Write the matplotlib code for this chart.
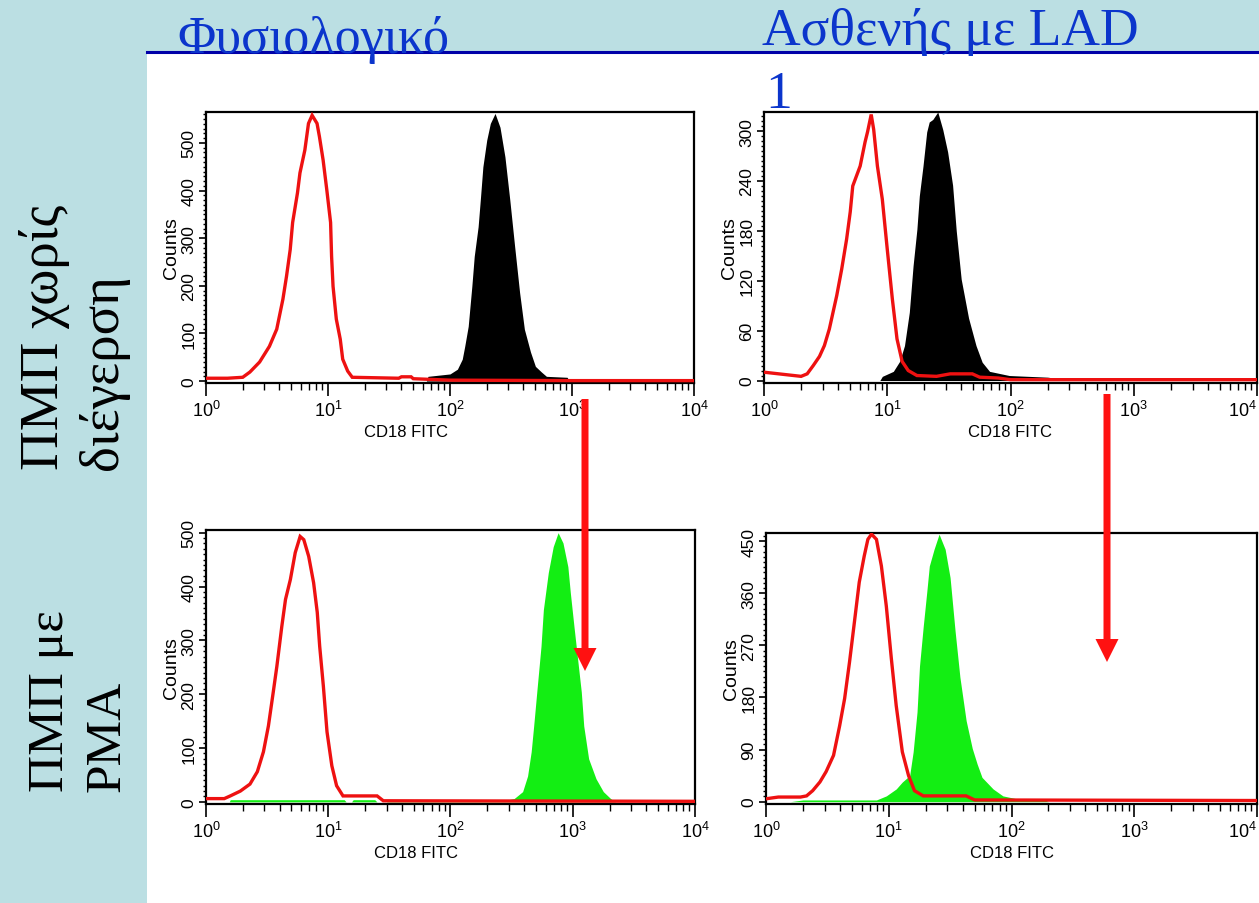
import matplotlib
matplotlib.use("Agg")
import matplotlib.pyplot as plt
from matplotlib.patches import Rectangle, FancyArrow
from matplotlib.lines import Line2D
from matplotlib.ticker import LogLocator, MultipleLocator, NullFormatter, FixedLocator

plt.rcParams['font.family'] = ['Liberation Sans', 'DejaVu Sans']
plt.rcParams['mathtext.fontset'] = 'custom'
plt.rcParams['mathtext.rm'] = 'Liberation Sans'
plt.rcParams['mathtext.it'] = 'Liberation Sans'

# ---------------- data ----------------
col_titles = ["Φυσιολογικό", "Ασθενής με LAD\n1"]
row_titles = ["ΠΜΠ χωρίς\nδιέγερση", "ΠΜΠ με\nPMA"]
x_label = "CD18 FITC"
y_label = "Counts"
x_ticks = [1, 10, 100, 1000, 10000]

# top-left: normal, unstimulated
tl_ctrl_x = [1.0, 1.5, 2.0, 2.29, 2.75, 3.31, 3.80, 4.27, 4.57, 4.90, 5.13, 5.62, 5.89, 6.46,
             6.92, 7.41, 8.13, 8.51, 9.12, 9.77, 10.5, 10.7, 11.0, 11.7, 12.6, 13.2, 14.5, 15.8,
             38, 40, 48, 50, 100, 1000, 10000]
tl_ctrl_y = [6, 6, 8, 19, 40, 73, 109, 172, 220, 276, 333, 395, 437, 485,
             541, 558, 541, 513, 464, 402, 333, 262, 199, 130, 88, 46, 21, 8,
             6, 9, 9, 5, 2, 1, 1]
tl_stain_x = [64, 66, 100, 115, 126, 132, 141, 151, 158, 170, 178, 186, 200, 214, 234, 257,
              282, 309, 339, 372, 407, 457, 501, 562, 617, 912, 950]
tl_stain_y = [0, 10, 15, 25, 46, 73, 115, 199, 262, 324, 387, 450, 506, 541, 562, 533,
              471, 381, 282, 186, 109, 61, 31, 19, 10, 8, 0]

# top-right: LAD patient, unstimulated
tr_ctrl_x = [1.0, 2.0, 2.24, 2.51, 2.82, 3.09, 3.39, 3.89, 4.27, 4.68, 5.01, 5.25, 6.03, 6.61,
             6.92, 7.41, 7.76, 8.32, 9.12, 10.0, 11.0, 12.0, 13.2, 14.8, 17.4, 25.1, 32.4,
             49.0, 56.2, 79.4, 100, 10000]
tr_ctrl_y = [10, 5, 8, 18, 29, 42, 62, 102, 134, 170, 203, 234, 258, 287,
             299, 320, 302, 258, 218, 158, 98, 50, 23, 12, 6, 5, 8,
             8, 4, 3, 1, 1]
tr_stain_x = [8.71, 9.12, 11.2, 12.6, 13.8, 15.1, 16.2, 17.4, 18.2, 19.5, 20.9, 21.9, 23.4,
              25.7, 28.2, 30.9, 33.9, 36.3, 39.8, 45.7, 52.5, 58.9, 67.6, 97.7, 200, 316]
tr_stain_y = [0, 5, 11, 23, 42, 82, 138, 182, 222, 258, 299, 311, 314,
              323, 302, 275, 235, 180, 122, 75, 42, 22, 11, 6, 4, 0]

# bottom-left: normal, PMA
bl_ctrl_x = [1.0, 1.41, 1.58, 1.91, 2.29, 2.63, 2.95, 3.24, 3.55, 3.80, 4.17, 4.47, 4.90, 5.37,
             5.89, 6.31, 6.92, 7.59, 8.13, 8.51, 9.12, 9.77, 10.7, 11.7, 13.2, 15.1, 25.1,
             28.2, 10000]
bl_ctrl_y = [6, 6, 11, 20, 33, 56, 93, 141, 204, 252, 326, 376, 413, 463,
             493, 487, 456, 407, 352, 289, 215, 130, 67, 30, 11, 11, 11,
             2, 1]
bl_stain_x = [1.55, 1.58, 13.5, 14.0, 15.5, 16.0, 24.0, 25.0, 30.0, 31.0, 100, 300,
              331, 389, 427, 457, 479, 513, 550, 575, 631, 692, 759, 832, 912, 955,
              1023, 1096, 1175, 1230, 1349, 1549, 1778, 2042, 2239]
bl_stain_y = [0, 4, 4, 0, 0, 4, 4, 0, 0, 4, 4, 4,
              6, 19, 48, 93, 141, 215, 289, 357, 426, 474, 500, 481, 437, 389,
              326, 265, 204, 141, 80, 43, 19, 6, 0]

# bottom-right: LAD patient, PMA
br_ctrl_x = [1.0, 1.26, 1.91, 2.14, 2.40, 2.75, 3.09, 3.55, 3.98, 4.37, 4.79, 5.25, 5.75, 6.31,
             6.76, 7.24, 7.94, 8.71, 9.55, 10.5, 11.5, 12.9, 14.5, 16.2, 19.1, 42.7, 50.1,
             10000]
br_ctrl_y = [5, 8, 8, 10, 19, 34, 52, 80, 131, 178, 241, 310, 379, 424,
             453, 462, 453, 407, 338, 247, 166, 86, 45, 19, 10, 10, 3,
             2]
br_stain_x = [1.58, 2.0, 7.94, 9.55, 11.5, 12.9, 14.8, 15.8, 17.0, 17.8, 19.1, 20.4, 21.4,
              23.4, 25.7, 28.8, 31.6, 34.7, 38.0, 42.7, 47.9, 52.5, 57.5, 70.8, 85.1, 110,
              178, 200]
br_stain_y = [0, 3, 3, 10, 22, 34, 45, 86, 155, 234, 303, 362, 407,
              436, 462, 436, 387, 295, 215, 140, 92, 65, 42, 22, 10, 5,
              5, 0]

panels = [
    dict(cx=tl_ctrl_x, cy=tl_ctrl_y, sx=tl_stain_x, sy=tl_stain_y, fill='black',
         ylim=(-4, 565), major=100, minor=10, pos=(206, 113, 694, 384), xlab=0.41, edge=False),
    dict(cx=tr_ctrl_x, cy=tr_ctrl_y, sx=tr_stain_x, sy=tr_stain_y, fill='black',
         ylim=(-3, 323), major=60, minor=6, pos=(764, 113, 1257, 384), xlab=0.5, edge=True),
    dict(cx=bl_ctrl_x, cy=bl_ctrl_y, sx=bl_stain_x, sy=bl_stain_y, fill='#13ee13',
         ylim=(-4, 505), major=100, minor=10, pos=(206, 531, 695, 805), xlab=0.43, edge=False),
    dict(cx=br_ctrl_x, cy=br_ctrl_y, sx=br_stain_x, sy=br_stain_y, fill='#13ee13',
         ylim=(-4, 464), major=90, minor=9, pos=(766, 534, 1257, 805), xlab=0.5, edge=True),
]

W, H = 1259, 904
fig = plt.figure(figsize=(W / 100, H / 100), dpi=100)
fig.patch.set_facecolor('#bbdfe3')
fig.add_artist(Rectangle((147 / W, 0), 1 - 147 / W, 1 - 55 / H, transform=fig.transFigure,
                         facecolor='white', edgecolor='none', zorder=-5))
fig.add_artist(Line2D([147 / W, 1], [1 - 53 / H, 1 - 53 / H], transform=fig.transFigure,
                      color='#0000a8', lw=2.2, zorder=-4))

red = '#ee1111'
for p in panels:
    l, t, r, b = p['pos']
    ax = fig.add_axes([l / W, 1 - b / H, (r - l) / W, (b - t) / H])
    ax.set_xscale('log')
    ax.set_xlim(1, 1e4)
    ax.set_ylim(*p['ylim'])
    ax.fill_between(p['sx'], 0, p['sy'], color=p['fill'], lw=0, zorder=2)
    ax.plot(p['cx'], p['cy'], color=red, lw=2.4, zorder=3, solid_joinstyle='miter')
    ax.xaxis.set_major_locator(FixedLocator(x_ticks))
    ax.set_xticklabels([r'$\mathdefault{10^{%d}}$' % i for i in range(len(x_ticks))])
    ax.xaxis.set_minor_locator(LogLocator(base=10, subs=range(2, 10), numticks=20))
    ax.xaxis.set_minor_formatter(NullFormatter())
    ax.yaxis.set_major_locator(MultipleLocator(p['major']))
    ax.yaxis.set_minor_locator(MultipleLocator(p['minor']))
    ax.tick_params(axis='x', which='major', direction='out', length=9, width=1.2, pad=3,
                   labelsize=13, colors='black')
    ax.tick_params(axis='x', which='minor', direction='out', length=5, width=1.0)
    ax.tick_params(axis='y', which='major', direction='out', length=5, width=1.2, pad=2,
                   labelsize=12.5, labelrotation=90)
    ax.tick_params(axis='y', which='minor', direction='out', length=2, width=1.0)
    for lab in ax.get_yticklabels():
        lab.set_va('center')
    if p['edge']:
        ax.xaxis.get_major_ticks()[-1].label1.set_ha('right')
    for s in ax.spines.values():
        s.set_linewidth(1.6)
        s.set_color('black')
    ax.set_ylabel(y_label, fontsize=14, labelpad=1)
    ax.set_xlabel(x_label, fontsize=12, labelpad=2)
    ax.xaxis.set_label_coords(p['xlab'], -0.15)

# column titles
blue = '#0b35cc'
serif = ['Liberation Serif', 'DejaVu Serif']
fig.text(177 / W, 1 - 53 / H, col_titles[0], fontsize=37.5, color=blue,
         family=serif, va='baseline', ha='left', zorder=6)
t1, t2 = col_titles[1].split('\n')
fig.text(762 / W, 1 - 45 / H, t1, fontsize=38.5, color=blue,
         family=serif, va='baseline', ha='left', zorder=6)
fig.text(765 / W, 1 - 108 / H, t2, fontsize=38.5, color=blue,
         family=serif, va='baseline', ha='left', zorder=6)

# row titles
fig.text(74 / W, 1 - 470 / H, row_titles[0], fontsize=39.5, color='black', rotation=90,
         family=serif, ha='center', va='bottom', multialignment='left', linespacing=1.2)
fig.text(79 / W, 1 - 792 / H, row_titles[1], fontsize=37, color='black', rotation=90,
         family=serif, ha='center', va='bottom', multialignment='left', linespacing=1.3)

# arrows (in inches, isotropic)
for (x0, y0, y1) in [(585, 400, 672), (1107, 395, 663)]:
    fig.add_artist(FancyArrow(x0 / 100, (H - y0) / 100, 0, -(y1 - y0) / 100,
                              width=0.07, head_width=0.23, head_length=0.23,
                              length_includes_head=True, color='#ff1111', lw=0,
                              transform=fig.dpi_scale_trans, zorder=8))

fig.savefig('out.png', dpi=100)
